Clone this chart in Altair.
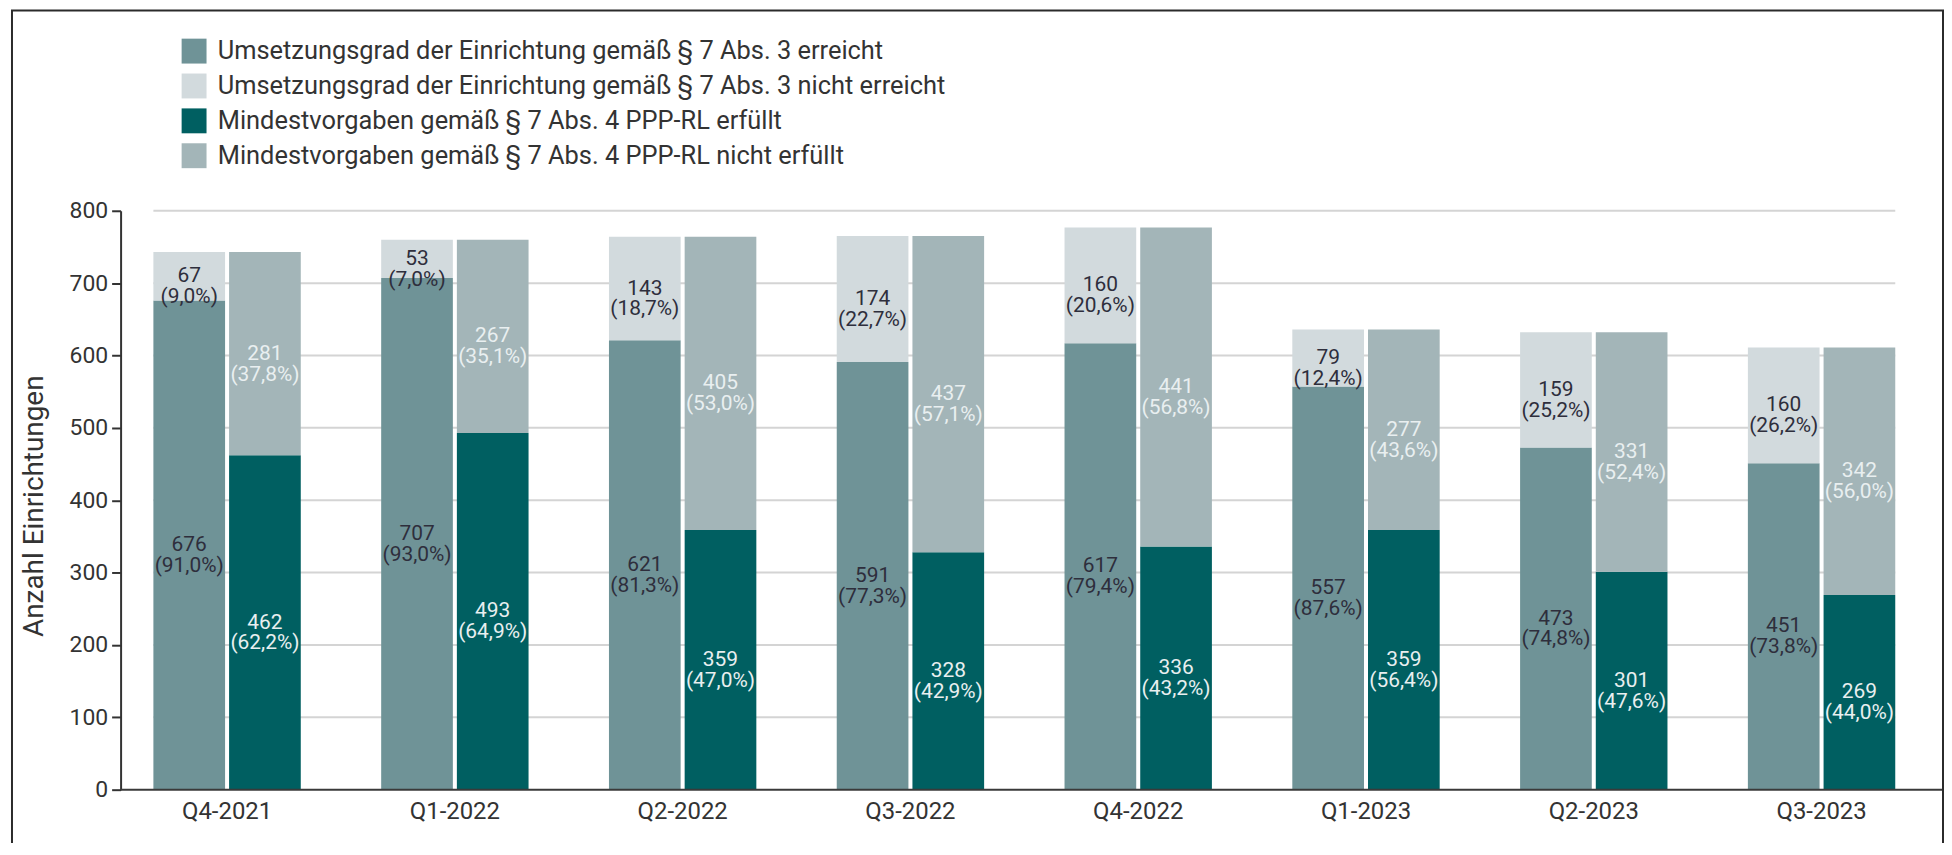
import altair as alt
import pandas as pd

# ---------------- data ----------------
quarters = ["Q4-2021", "Q1-2022", "Q2-2022", "Q3-2022", "Q4-2022", "Q1-2023", "Q2-2023", "Q3-2023"]

series_names = [
    "Umsetzungsgrad der Einrichtung gemäß § 7 Abs. 3 erreicht",
    "Umsetzungsgrad der Einrichtung gemäß § 7 Abs. 3 nicht erreicht",
    "Mindestvorgaben gemäß § 7 Abs. 4 PPP-RL erfüllt",
    "Mindestvorgaben gemäß § 7 Abs. 4 PPP-RL nicht erfüllt",
]
series_colors = ["#6f9397", "#d2dadd", "#005f61", "#a3b5b8"]

ug_erreicht = [676, 707, 621, 591, 617, 557, 473, 451]
ug_erreicht_pct = [91.0, 93.0, 81.3, 77.3, 79.4, 87.6, 74.8, 73.8]
ug_nicht = [67, 53, 143, 174, 160, 79, 159, 160]
ug_nicht_pct = [9.0, 7.0, 18.7, 22.7, 20.6, 12.4, 25.2, 26.2]
mv_erfuellt = [462, 493, 359, 328, 336, 359, 301, 269]
mv_erfuellt_pct = [62.2, 64.9, 47.0, 42.9, 43.2, 56.4, 47.6, 44.0]
mv_nicht = [281, 267, 405, 437, 441, 277, 331, 342]
mv_nicht_pct = [37.8, 35.1, 53.0, 57.1, 56.8, 43.6, 52.4, 56.0]

y_ticks = [0, 100, 200, 300, 400, 500, 600, 700, 800]
y_title = "Anzahl Einrichtungen"

# ---------------- table ----------------
parts = [
    (ug_erreicht, ug_erreicht_pct, series_names[0], "A", 0),
    (ug_nicht, ug_nicht_pct, series_names[1], "A", 1),
    (mv_erfuellt, mv_erfuellt_pct, series_names[2], "M", 0),
    (mv_nicht, mv_nicht_pct, series_names[3], "M", 1),
]
rows = []
for vals, pcts, name, grp, order in parts:
    for q, v, p in zip(quarters, vals, pcts):
        pct_txt = f"{p:.1f}".replace(".", ",")
        rows.append(dict(quarter=q, series=name, group=grp, order=order,
                         value=v, label=f"{v}\n({pct_txt}%)"))
df = pd.DataFrame(rows)

grid_df = pd.DataFrame({"tick": y_ticks[1:], "start": quarters[0], "end": quarters[-1]})

W, H = 1814, 581
FONT = "Roboto"
TXT = "#333333"

x_scale = alt.Scale(domain=quarters, paddingInner=0.353, paddingOuter=0.144)
x_axis = alt.Axis(title=None, labelAngle=0, domain=False, ticks=False, tickSize=0,
                  labelFontSize=24, labelPadding=10, labelColor=TXT, labelFont=FONT)
y_scale = alt.Scale(domain=[0, 800], nice=False)
y_axis = alt.Axis(values=y_ticks, grid=False, domainColor="#333333", domainWidth=2,
                  tickColor="#333333", tickWidth=2, tickSize=9,
                  labelFontSize=23, labelPadding=4, labelColor=TXT, labelFont=FONT,
                  title=y_title, titleFontSize=28, titleFontWeight="normal",
                  titleColor=TXT, titleFont=FONT, titleAngle=270, titleX=-78, titleY=296,
                  titleBaseline="alphabetic", titleAlign="center")
off_scale = alt.Scale(domain=["A", "M"], paddingInner=0.053)

base = alt.Chart(df).transform_stack(
    stack="value", as_=["y0", "y1"], groupby=["quarter", "group"],
    sort=[alt.SortField("order", order="ascending")]
).transform_calculate(ymid="(datum.y0 + datum.y1) / 2")

grid = alt.Chart(grid_df).mark_rule(color="#d4d4d4", strokeWidth=2).encode(
    x=alt.X("start:N", scale=x_scale, axis=x_axis, bandPosition=0),
    x2=alt.X2("end:N", bandPosition=1),
    y=alt.Y("tick:Q", scale=y_scale, axis=y_axis),
)

bars = base.mark_bar().encode(
    x=alt.X("quarter:N", scale=x_scale, axis=x_axis),
    xOffset=alt.XOffset("group:N", scale=off_scale),
    y=alt.Y("y0:Q", scale=y_scale, axis=y_axis),
    y2="y1:Q",
    color=alt.Color("series:N", scale=alt.Scale(domain=series_names, range=series_colors),
                    legend=alt.Legend(title=None, orient="none", legendX=61, legendY=-173,
                                      symbolType="square", symbolSize=625, symbolStrokeWidth=0,
                                      symbolOpacity=1, labelFontSize=25.5, labelFont=FONT,
                                      labelColor=TXT, labelOffset=11, rowPadding=8,
                                      labelLimit=0, padding=0)),
)

labels = base.mark_text(font=FONT, fontSize=21, lineBreak="\n", lineHeight=21,
                        baseline="middle", align="center").encode(
    x=alt.X("quarter:N", scale=x_scale, axis=x_axis),
    xOffset=alt.XOffset("group:N", scale=off_scale),
    y=alt.Y("ymid:Q", scale=y_scale, axis=y_axis),
    text="label:N",
    color=alt.condition(alt.datum.group == "M", alt.value("#e9eff0"), alt.value("#2e2e3c")),
)

baseline = alt.Chart(alt.Data(values=[{}])).mark_rule(color="#3a3a3a", strokeWidth=2).encode(
    x=alt.value(0), x2=alt.value(W + 16), y=alt.datum(0)
)

frame = alt.Chart(alt.Data(values=[{}])).mark_rect(
    fill="transparent", stroke="#2b2b2b", strokeWidth=2
).encode(x=alt.value(-109), x2=alt.value(W + 15), y=alt.value(-201), y2=alt.value(H + 120))

chart = alt.layer(grid, bars, labels, baseline, frame).properties(
    width=W, height=H,
    autosize=alt.AutoSizeParams(type="none"),
    padding={"left": 113, "top": 202, "right": 16, "bottom": 52},
).configure_view(stroke=None)

chart.save("out.html", embed_options={"renderer": "svg", "actions": False})
